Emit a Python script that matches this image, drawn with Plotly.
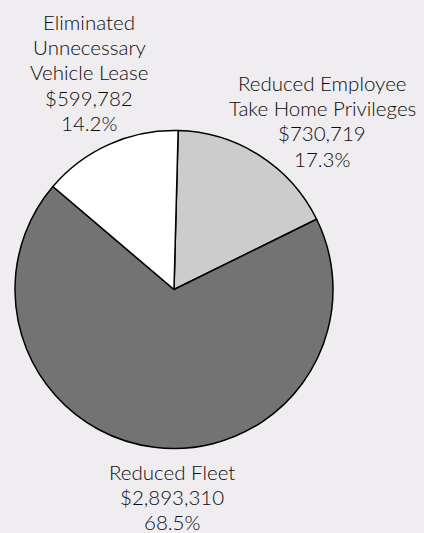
import plotly.graph_objects as go

# Savings by category (clockwise from 12 o'clock)
categories = ["Reduced Employee<br>Take Home Privileges", "Reduced Fleet",
              "Eliminated<br>Unnecessary<br>Vehicle Lease"]
amounts = [730719, 2893310, 599782]
percents = [17.3, 68.5, 14.2]
colors = ["#cccccc", "#737373", "#ffffff"]

W, H = 424, 533
BG = "#efedef"
TEXT = "#0d0b0c"
LINE_GAP = 25.2

fig = go.Figure()
fig.add_trace(go.Pie(
    labels=categories,
    values=percents,
    sort=False,
    direction="clockwise",
    rotation=1.5,
    marker=dict(colors=colors, line=dict(color="#000000", width=1.5)),
    textinfo="none",
    hoverinfo="label+value",
    showlegend=False,
    domain=dict(x=[15 / W, 333 / W], y=[1 - 449 / H, 1 - 130 / H]),
))

# Label blocks: centre x and first-line y in pixels
label_pos = [(322, 83), (172, 472), (89, 22)]
for name, amt, pct, (px, py) in zip(categories, amounts, percents, label_pos):
    lines = name.split("<br>") + [f"${amt:,}", f"{pct:.1f}%"]
    for i, line in enumerate(lines):
        fig.add_annotation(
            x=px / W, y=1 - (py + i * LINE_GAP) / H, xref="paper", yref="paper",
            xanchor="center", yanchor="middle", showarrow=False,
            text=line,
            font=dict(family="Lato", size=20.5, color=TEXT, weight=300),
        )

fig.update_layout(
    width=W, height=H,
    margin=dict(l=0, r=0, t=0, b=0),
    paper_bgcolor=BG, plot_bgcolor=BG,
)

fig.write_html("out.html")
